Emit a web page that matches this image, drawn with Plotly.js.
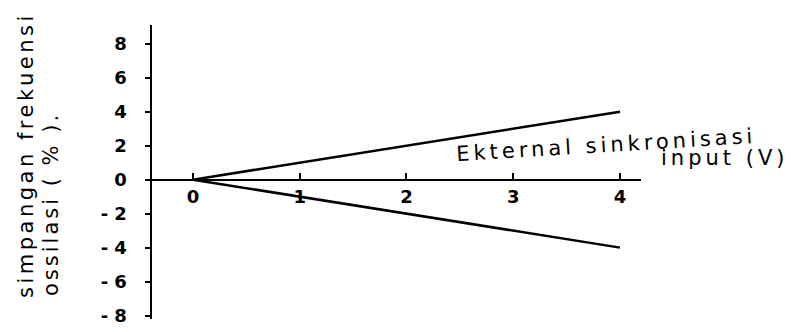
<!DOCTYPE html>
<html>
<head>
<meta charset="utf-8">
<script src="https://cdn.plot.ly/plotly-3.0.1.min.js"></script>
<style>html,body{margin:0;padding:0;background:#fff;}#chart{width:792px;height:332px;}</style>
</head>
<body>
<div id="chart"></div>
<script>
// Data
const inputV = [0, 4];              // External synchronisation input (V)
const upperDev = [0, 4];            // upper frequency deviation (%)
const lowerDev = [0, -4];           // lower frequency deviation (%)
const xTickVals = [0, 1, 2, 3, 4];
const xTickText = ["0", "1", "2", "3", "4"];
const yTickVals = [8, 6, 4, 2, 0, -2, -4, -6, -8];
const yTickText = ["8", "6", "4", "2", "0", "- 2", "- 4", "- 6", "- 8"];

const yMin = -8.2, yMax = 9.1;
const xMin = -0.384, xMax = 4.197;
const W = 792, H = 332, ML = 152, MR = 151, MT = 25, MB = 13;
const PW = W - ML - MR, PH = H - MT - MB;
const px = p => (p - ML) / PW;
const py = p => (H - MB - p) / PH;
const fam = "DejaVu Sans, sans-serif";
const spaced = (t, s) => '<span style="letter-spacing:' + s + 'px">' + t + '</span>';

const traces = [
  {x: inputV, y: upperDev, mode: "lines", line: {color: "#000", width: 2.5}, hoverinfo: "skip"},
  {x: inputV, y: lowerDev, mode: "lines", line: {color: "#000", width: 2.5}, hoverinfo: "skip"}
];

const layout = {
  width: W, height: H,
  margin: {l: ML, r: MR, t: MT, b: MB},
  paper_bgcolor: "#fff", plot_bgcolor: "#fff",
  showlegend: false,
  font: {family: fam, size: 14, color: "#000"},
  xaxis: {
    range: [xMin, xMax], anchor: "free", position: (0 - yMin) / (yMax - yMin),
    showgrid: false, zeroline: false, showline: true, linecolor: "#000", linewidth: 2.5,
    tickmode: "array", tickvals: xTickVals, ticktext: xTickText,
    ticks: "inside", ticklen: 6, tickwidth: 2, tickcolor: "#000",
    tickfont: {family: fam, size: 18, color: "#000", weight: "bold"}
  },
  yaxis: {
    range: [yMin, yMax],
    showgrid: false, zeroline: false, showline: true, linecolor: "#000", linewidth: 2.5,
    tickmode: "array", tickvals: yTickVals, ticktext: yTickText,
    ticks: "outside", ticklen: 5, tickwidth: 2, tickcolor: "#000",
    ticklabelstandoff: 14,
    tickfont: {family: fam, size: 18, color: "#000", weight: "bold"}
  },
  annotations: [
    {text: spaced("Ekternal sinkronisasi", 4), xref: "paper", yref: "paper",
     x: px(606), y: py(145), xanchor: "center", yanchor: "middle",
     showarrow: false, textangle: -3.5, font: {family: fam, size: 21, color: "#000"}},
    {text: spaced("input (V)", 4), xref: "paper", yref: "paper",
     x: px(724), y: py(158), xanchor: "center", yanchor: "middle",
     showarrow: false, font: {family: fam, size: 21, color: "#000"}},
    {text: spaced("simpangan frekuensi", 3.5), xref: "paper", yref: "paper",
     x: px(26), y: py(300), xanchor: "center", yanchor: "bottom",
     showarrow: false, textangle: -90, font: {family: fam, size: 21, color: "#000"}},
    {text: spaced("ossilasi ( % ).", 3), xref: "paper", yref: "paper",
     x: px(51), y: py(298), xanchor: "center", yanchor: "bottom",
     showarrow: false, textangle: -90, font: {family: fam, size: 21, color: "#000"}}
  ]
};

Plotly.newPlot("chart", traces, layout, {staticPlot: true, displayModeBar: false});
</script>
</body>
</html>
